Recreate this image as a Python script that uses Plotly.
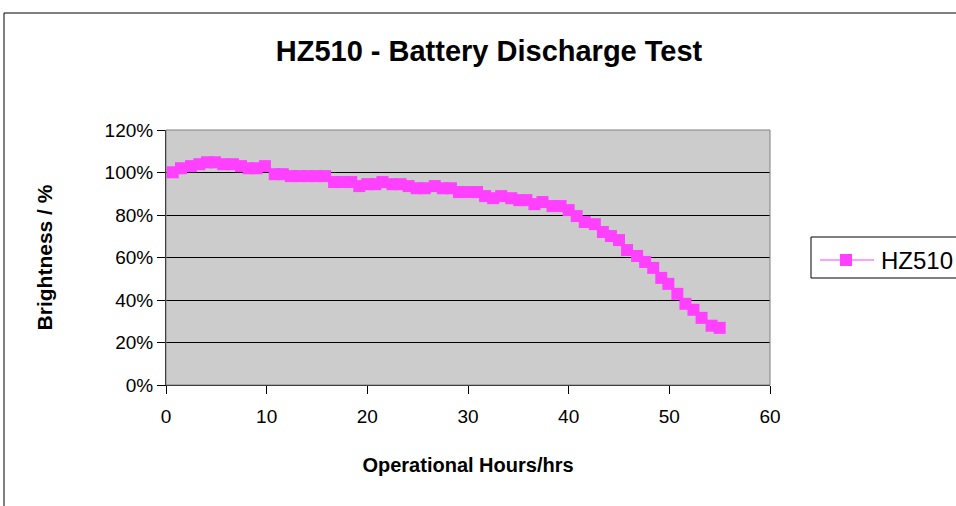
import plotly.graph_objects as go

hours = [0.67, 1.49, 2.48, 3.31, 4.07, 4.87, 5.69, 6.65, 7.45, 8.21, 9.0, 9.83,
         10.8, 11.6, 12.4, 13.2, 14.1, 14.9, 15.8, 16.7, 17.5, 18.4, 19.2, 20.0,
         20.8, 21.5, 22.5, 23.3, 24.1, 24.9, 25.7, 26.7, 27.5, 28.3, 29.1, 30.0,
         30.9, 31.7, 32.5, 33.3, 34.3, 35.1, 35.8, 36.6, 37.4, 38.4, 39.2, 40.0,
         40.8, 41.6, 42.6, 43.4, 44.2, 45.0, 45.8, 46.8, 47.6, 48.4, 49.2, 49.9,
         50.8, 51.6, 52.4, 53.2, 54.2, 55.0]
brightness = [100.1, 102.0, 103.0, 103.9, 104.8, 104.8, 103.9, 103.9, 103.0, 102.0, 102.0, 103.0,
              99.2, 99.2, 98.3, 98.3, 98.3, 98.3, 98.3, 95.5, 95.5, 95.5, 93.6, 94.5,
              94.5, 95.5, 94.5, 94.5, 93.6, 92.6, 92.6, 93.6, 92.6, 92.6, 90.8, 90.8,
              90.8, 88.9, 87.9, 88.9, 87.9, 87.0, 87.0, 85.1, 86.1, 84.2, 84.2, 82.3,
              79.5, 76.7, 75.7, 72.0, 70.1, 68.2, 63.5, 60.7, 57.9, 55.1, 50.4, 47.6,
              42.9, 38.2, 35.4, 31.6, 27.9, 26.9]
series_name = "HZ510"
x_ticks = [0, 10, 20, 30, 40, 50, 60]
y_ticks = [0, 20, 40, 60, 80, 100, 120]

W, H = 956, 506
L, R, T, B = 166, 770, 130, 385  # plot area pixels

def px(xp):
    return (xp - L) / (R - L)

def py(yp):
    return (B - yp) / (B - T)

FONT = "Liberation Sans, Arial, sans-serif"
MAG = "#FF40FF"

fig = go.Figure()
fig.add_trace(go.Scatter(
    x=hours, y=brightness, mode="lines+markers", name=series_name,
    line=dict(color=MAG, width=1),
    marker=dict(symbol="square", size=12, color=MAG, line=dict(width=0)),
    showlegend=False,
))

# legend drawn manually (Excel-style long line sample)
leg_y = 260
shapes = [
    dict(type="rect", xref="paper", yref="paper", x0=0, x1=1, y0=0, y1=1,
         line=dict(color="#808080", width=1), layer="above"),
    dict(type="rect", xref="paper", yref="paper", x0=px(4), x1=px(962), y0=py(13), y1=py(512),
         line=dict(color="black", width=1), layer="above"),
    dict(type="rect", xref="paper", yref="paper", x0=px(811), x1=px(962), y0=py(237), y1=py(278),
         line=dict(color="black", width=1), fillcolor="white", layer="above"),
    dict(type="line", xref="paper", yref="paper", x0=px(820), x1=px(874), y0=py(leg_y), y1=py(leg_y),
         line=dict(color=MAG, width=1), layer="above"),
    dict(type="rect", xref="paper", yref="paper", x0=px(840), x1=px(852), y0=py(leg_y - 6), y1=py(leg_y + 6),
         line=dict(width=0), fillcolor=MAG, layer="above"),
]

fig.update_layout(
    width=W, height=H,
    margin=dict(l=L, r=W - R, t=T, b=H - B, pad=0),
    paper_bgcolor="white",
    plot_bgcolor="#CCCCCC",
    font=dict(family=FONT, color="black", size=19),
    title=dict(text="<b>HZ510 - Battery Discharge Test</b>", x=489 / W, xanchor="center",
               y=1 - 51 / H, yanchor="middle", font=dict(size=29, family=FONT)),
    showlegend=False,
    xaxis=dict(range=[0, 60], tickvals=x_ticks, ticktext=[str(v) for v in x_ticks],
               showgrid=False, zeroline=False, showline=True, linecolor="black", linewidth=1,
               ticks="outside", ticklen=8, tickcolor="black",
               tickfont=dict(size=19), ticklabelstandoff=6,
               title=dict(text="<b>Operational Hours/hrs</b>", font=dict(size=20), standoff=32)),
    yaxis=dict(range=[0, 120], tickvals=y_ticks, ticktext=[f"{v}%" for v in y_ticks],
               showgrid=True, gridcolor="black", gridwidth=1, zeroline=False,
               showline=True, linecolor="black", linewidth=1,
               ticks="outside", ticklen=8, tickcolor="black",
               tickfont=dict(size=19),
               title=dict(text="<b>Brightness / %</b>", font=dict(size=21), standoff=46)),
    shapes=shapes,
    annotations=[
        dict(text=series_name, xref="paper", yref="paper", x=px(879), y=py(leg_y),
             xanchor="left", yanchor="middle", showarrow=False, font=dict(size=24, family=FONT)),
    ],
)

fig.write_html("out.html", config={"displayModeBar": False},
               post_script="document.body.style.margin='0';")
